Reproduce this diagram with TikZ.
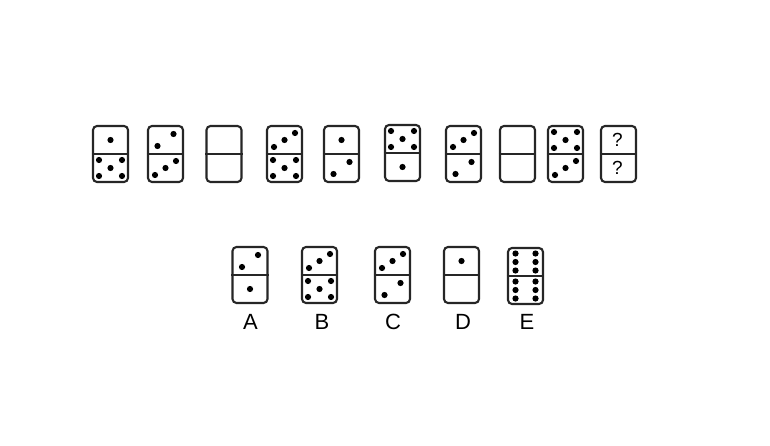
\documentclass[tikz,border=0pt]{standalone}
\usepackage{fontspec}
\setmainfont{Liberation Sans}
\definecolor{edge}{HTML}{262626}
\tikzset{
  dom/.style={draw=edge, line width=2.1pt, rounded corners=4pt, minimum width=35pt, minimum height=56pt, inner sep=0pt, fill=white},
  divline/.style={draw=edge, line width=1.8pt},
  lbl/.style={font=\fontsize{22}{24}\selectfont, text=black, inner sep=0pt},
  qm/.style={font=\fontsize{19}{21}\selectfont, text=black, inner sep=0pt}
}
\newcommand\pp[4]{\fill[black] (#1+#3,#2+#4) circle[radius=3.1pt];}
\newcommand\face[3]{%
  \ifcase#3\relax
  \or \pp{#1}{#2}{0}{0}%
  \or \pp{#1}{#2}{-8}{6}\pp{#1}{#2}{8}{-6}%
  \or \pp{#1}{#2}{-10.5}{7}\pp{#1}{#2}{0}{0}\pp{#1}{#2}{10.5}{-7}%
  \or \pp{#1}{#2}{-11}{-8}\pp{#1}{#2}{11}{-8}\pp{#1}{#2}{-11}{8}\pp{#1}{#2}{11}{8}%
  \or \pp{#1}{#2}{-11.5}{-8}\pp{#1}{#2}{11.5}{-8}\pp{#1}{#2}{0}{0}\pp{#1}{#2}{-11.5}{8}\pp{#1}{#2}{11.5}{8}%
  \or \pp{#1}{#2}{-10}{-8.5}\pp{#1}{#2}{10}{-8.5}\pp{#1}{#2}{-10}{0}\pp{#1}{#2}{10}{0}\pp{#1}{#2}{-10}{8.5}\pp{#1}{#2}{10}{8.5}%
  \fi}
% #1 name, #2 x, #3 y, #4 top count, #5 bottom count
\newcommand\domino[5]{%
  \node[dom] (#1) at (#2,#3) {};
  \draw[divline] (#1.west) -- (#1.east);
  \face{#2}{#3-14}{#4}
  \face{#2}{#3+14}{#5}
}
\begin{document}
\begin{tikzpicture}[x=1pt,y=-1pt]
\useasboundingbox (0,0) rectangle (770,446);
% top row
\domino{t1}{110.5}{154}{1}{5}
\domino{t2}{165.5}{154}{2}{3}
\domino{t3}{224}{154}{0}{0}
\domino{t4}{284.5}{154}{3}{5}
\domino{t5}{341.5}{154}{1}{2}
\domino{t6}{402.5}{153}{5}{1}
\domino{t7}{463.5}{154}{3}{2}
\domino{t8}{517.5}{154}{0}{0}
\domino{t9}{565.5}{154}{5}{3}
\domino{t10}{618.5}{154}{0}{0}
\node[qm] (q1) at (617.5,139.5) {?};
\node[qm] (q2) at (617.5,167.5) {?};
% answers
\domino{a}{250}{275}{2}{1}
\domino{b}{319.5}{275}{3}{5}
\domino{c}{392.5}{275}{3}{2}
\domino{d}{461.5}{275}{1}{0}
\domino{e}{525.5}{276}{6}{6}
\node[lbl] (la) at (250.5,321.5) {A};
\node[lbl] (lb) at (322,322) {B};
\node[lbl] (lc) at (393,322) {C};
\node[lbl] (ld) at (463,322) {D};
\node[lbl] (le) at (527,322) {E};
\end{tikzpicture}
\end{document}
